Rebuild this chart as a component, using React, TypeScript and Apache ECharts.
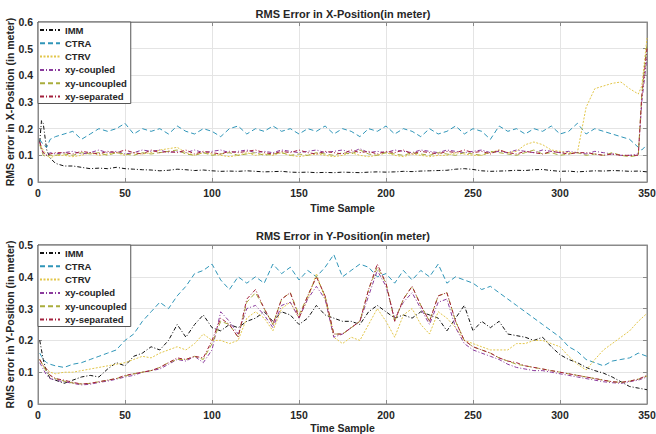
import React, { useEffect, useRef } from "react";
import * as echarts from "echarts";

const seriesNames = ["IMM", "CTRA", "CTRV", "xy-coupled", "xy-uncoupled", "xy-separated"];

const topSamples = [1, 2, 3, 5, 7, 10,
  15, 20, 25, 30, 35, 40, 45, 50, 55, 60,
  65, 70, 75, 80, 85, 90, 95, 100, 105, 110,
  115, 120, 125, 130, 135, 140, 145, 150, 155, 160,
  165, 170, 175, 180, 185, 190, 195, 200, 205, 210,
  215, 220, 225, 230, 235, 240, 245, 250, 255, 260,
  265, 270, 275, 280, 285, 290, 295, 300, 305, 310,
  315, 320, 325, 330, 335, 340, 345,
  347, 350];

const topIMM = [0.15, 0.23, 0.22, 0.12, 0.09, 0.07,
  0.06, 0.06, 0.055, 0.05, 0.052, 0.05, 0.055, 0.05, 0.048, 0.046,
  0.045, 0.042, 0.044, 0.048, 0.046, 0.043, 0.045, 0.042, 0.04, 0.041,
  0.04, 0.042, 0.04, 0.038, 0.039, 0.04, 0.037, 0.036, 0.037, 0.035,
  0.036, 0.035, 0.037, 0.036, 0.035, 0.037, 0.038, 0.037, 0.038, 0.04,
  0.039, 0.041, 0.042, 0.043, 0.044, 0.048, 0.05, 0.047, 0.042, 0.04,
  0.041, 0.042, 0.044, 0.043, 0.046, 0.047, 0.043, 0.04, 0.041, 0.038,
  0.04, 0.042, 0.041, 0.043, 0.042, 0.04, 0.041,
  0.04, 0.038];

const topCTRA = [0.16, 0.15, 0.14, 0.13, 0.16, 0.17,
  0.18, 0.19, 0.16, 0.18, 0.2, 0.19, 0.2, 0.22, 0.18, 0.2,
  0.19, 0.2, 0.18, 0.21, 0.19, 0.18, 0.2, 0.19, 0.17, 0.2,
  0.21, 0.18, 0.2, 0.19, 0.21, 0.19, 0.2, 0.18, 0.2, 0.19,
  0.21, 0.18, 0.2, 0.19, 0.17, 0.2, 0.19, 0.21, 0.18, 0.2,
  0.19, 0.17, 0.2, 0.18, 0.19, 0.21, 0.18, 0.2, 0.19, 0.16,
  0.21, 0.19, 0.2, 0.18, 0.2, 0.19, 0.21, 0.18, 0.19, 0.22,
  0.18, 0.2, 0.19, 0.18, 0.17, 0.16, 0.13,
  0.12, 0.14];

const topCTRV = [0.15, 0.13, 0.12, 0.1, 0.09, 0.1,
  0.1, 0.095, 0.1, 0.11, 0.1, 0.105, 0.11, 0.1, 0.11, 0.105,
  0.11, 0.12, 0.125, 0.13, 0.11, 0.1, 0.11, 0.105, 0.1, 0.095,
  0.1, 0.11, 0.1, 0.105, 0.1, 0.11, 0.1, 0.095, 0.1, 0.105,
  0.1, 0.095, 0.1, 0.11, 0.1, 0.095, 0.1, 0.11, 0.1, 0.095,
  0.105, 0.1, 0.095, 0.1, 0.1, 0.11, 0.105, 0.1, 0.1, 0.11,
  0.12, 0.11, 0.115, 0.14, 0.15, 0.14, 0.12, 0.115, 0.11, 0.11,
  0.28, 0.35, 0.36, 0.37, 0.375, 0.35, 0.33,
  0.36, 0.54];

const topCoupled = [0.15, 0.12, 0.11, 0.1, 0.11, 0.105,
  0.11, 0.115, 0.105, 0.11, 0.12, 0.11, 0.115, 0.105, 0.11, 0.12,
  0.115, 0.12, 0.11, 0.115, 0.11, 0.12, 0.11, 0.115, 0.12, 0.11,
  0.115, 0.12, 0.11, 0.115, 0.11, 0.12, 0.115, 0.11, 0.115, 0.12,
  0.11, 0.115, 0.12, 0.11, 0.125, 0.11, 0.115, 0.11, 0.12, 0.115,
  0.11, 0.12, 0.115, 0.11, 0.12, 0.115, 0.11, 0.115, 0.12, 0.11,
  0.115, 0.11, 0.12, 0.115, 0.11, 0.12, 0.115, 0.11, 0.115, 0.11,
  0.105, 0.115, 0.11, 0.105, 0.1, 0.1, 0.105,
  0.3, 0.47];

const topUncoupled = [0.14, 0.12, 0.1, 0.095, 0.1, 0.1,
  0.105, 0.1, 0.11, 0.105, 0.11, 0.1, 0.11, 0.105, 0.1, 0.11,
  0.105, 0.11, 0.115, 0.12, 0.105, 0.1, 0.11, 0.1, 0.105, 0.11,
  0.1, 0.105, 0.11, 0.1, 0.105, 0.11, 0.1, 0.105, 0.1, 0.11,
  0.105, 0.1, 0.11, 0.105, 0.12, 0.105, 0.1, 0.11, 0.105, 0.1,
  0.11, 0.105, 0.1, 0.11, 0.105, 0.1, 0.11, 0.105, 0.1, 0.115,
  0.11, 0.105, 0.1, 0.11, 0.12, 0.105, 0.11, 0.1, 0.105, 0.11,
  0.1, 0.105, 0.1, 0.11, 0.1, 0.095, 0.1,
  0.33, 0.52];

const topSeparated = [0.15, 0.13, 0.11, 0.1, 0.105, 0.11,
  0.11, 0.105, 0.115, 0.11, 0.105, 0.115, 0.11, 0.12, 0.11, 0.105,
  0.12, 0.11, 0.115, 0.11, 0.12, 0.105, 0.115, 0.11, 0.105, 0.115,
  0.11, 0.115, 0.12, 0.11, 0.105, 0.115, 0.11, 0.12, 0.11, 0.105,
  0.115, 0.11, 0.105, 0.12, 0.11, 0.115, 0.105, 0.115, 0.11, 0.12,
  0.105, 0.115, 0.11, 0.105, 0.115, 0.11, 0.12, 0.11, 0.115, 0.105,
  0.12, 0.11, 0.105, 0.115, 0.11, 0.105, 0.115, 0.11, 0.105, 0.11,
  0.11, 0.105, 0.1, 0.105, 0.1, 0.1, 0.1,
  0.32, 0.5];

const bottomSamples = [1, 2, 3, 5, 7, 10,
  15, 20, 25, 30, 35, 40, 45, 50, 55, 60,
  65, 70, 75, 80, 85, 90, 95, 100, 105, 110,
  115, 120, 125, 130, 135, 140, 145, 150, 155, 160,
  165, 170, 175, 180, 185, 190, 195, 200, 205, 210,
  215, 220, 225, 230, 235, 240, 245, 250, 255, 260,
  265, 270, 275, 280, 285, 290, 295, 300, 305, 310,
  315, 320, 325, 330, 335, 340, 345, 350];

const bottomIMM = [0.2, 0.17, 0.14, 0.1, 0.08, 0.075,
  0.065, 0.075, 0.085, 0.09, 0.085, 0.11, 0.13, 0.12, 0.15, 0.16,
  0.18, 0.17, 0.2, 0.25, 0.21, 0.25, 0.28, 0.24, 0.23, 0.25,
  0.24, 0.26, 0.27, 0.29, 0.26, 0.29, 0.28, 0.25, 0.27, 0.31,
  0.28, 0.27, 0.26, 0.26, 0.25, 0.29, 0.31, 0.29, 0.27, 0.28,
  0.27, 0.29, 0.28, 0.27, 0.23, 0.27, 0.31, 0.23, 0.26, 0.24,
  0.26, 0.22, 0.215, 0.21, 0.2, 0.21, 0.18, 0.155, 0.14, 0.13,
  0.115, 0.105, 0.097, 0.085, 0.07, 0.055, 0.05, 0.045];

const bottomCTRA = [0.16, 0.15, 0.14, 0.13, 0.125, 0.12,
  0.115, 0.125, 0.13, 0.14, 0.15, 0.16, 0.17, 0.2, 0.22, 0.26,
  0.29, 0.32, 0.3, 0.34, 0.37, 0.41, 0.42, 0.44, 0.39, 0.36,
  0.4, 0.38, 0.4, 0.38, 0.44, 0.41, 0.43, 0.39, 0.42, 0.4,
  0.43, 0.47, 0.4, 0.42, 0.44, 0.43, 0.4, 0.41, 0.38, 0.42,
  0.39, 0.42, 0.4, 0.44, 0.38, 0.4, 0.39, 0.38, 0.36, 0.37,
  0.35, 0.33, 0.31, 0.29, 0.27, 0.25, 0.23, 0.21, 0.18, 0.165,
  0.14, 0.13, 0.12, 0.135, 0.14, 0.145, 0.16, 0.15];

const bottomCTRV = [0.14, 0.13, 0.12, 0.11, 0.1, 0.095,
  0.1, 0.1, 0.105, 0.11, 0.115, 0.12, 0.125, 0.13, 0.14, 0.15,
  0.145, 0.16, 0.17, 0.18, 0.17, 0.19, 0.22, 0.2, 0.2, 0.19,
  0.2, 0.27, 0.29, 0.27, 0.23, 0.3, 0.32, 0.27, 0.33, 0.41,
  0.33, 0.21, 0.19, 0.21, 0.2, 0.25, 0.3, 0.26, 0.21, 0.28,
  0.3, 0.25, 0.22, 0.29, 0.27, 0.24, 0.2, 0.19, 0.18, 0.17,
  0.17, 0.17, 0.19, 0.19, 0.2, 0.2, 0.19, 0.18, 0.15, 0.125,
  0.107, 0.14, 0.17, 0.19, 0.21, 0.23, 0.26, 0.285];

const bottomCoupled = [0.13, 0.12, 0.11, 0.09, 0.08, 0.075,
  0.07, 0.065, 0.06, 0.062, 0.068, 0.072, 0.078, 0.085, 0.09, 0.1,
  0.105, 0.11, 0.125, 0.14, 0.135, 0.15, 0.13, 0.17, 0.29, 0.26,
  0.22, 0.3, 0.31, 0.28, 0.24, 0.31, 0.32, 0.27, 0.33, 0.37,
  0.33, 0.21, 0.22, 0.24, 0.26, 0.34, 0.42, 0.37, 0.27, 0.32,
  0.35, 0.3, 0.25, 0.32, 0.33, 0.24, 0.19, 0.17, 0.16, 0.15,
  0.14, 0.125, 0.115, 0.11, 0.105, 0.105, 0.1, 0.095, 0.09, 0.085,
  0.08, 0.075, 0.07, 0.067, 0.065, 0.07, 0.075, 0.085];

const bottomUncoupled = [0.14, 0.13, 0.12, 0.1, 0.09, 0.08,
  0.072, 0.066, 0.063, 0.065, 0.07, 0.075, 0.08, 0.088, 0.095, 0.1,
  0.105, 0.115, 0.13, 0.14, 0.14, 0.15, 0.14, 0.19, 0.26, 0.25,
  0.21, 0.32, 0.35, 0.3, 0.25, 0.33, 0.35, 0.28, 0.34, 0.4,
  0.34, 0.22, 0.22, 0.24, 0.26, 0.36, 0.43, 0.38, 0.26, 0.33,
  0.37, 0.31, 0.26, 0.34, 0.35, 0.26, 0.2, 0.18, 0.17, 0.16,
  0.145, 0.135, 0.125, 0.12, 0.115, 0.11, 0.105, 0.1, 0.095, 0.09,
  0.085, 0.08, 0.075, 0.07, 0.068, 0.072, 0.078, 0.088];

const bottomSeparated = [0.14, 0.13, 0.12, 0.11, 0.09, 0.08,
  0.075, 0.068, 0.063, 0.065, 0.07, 0.075, 0.08, 0.09, 0.095, 0.1,
  0.105, 0.115, 0.13, 0.145, 0.14, 0.15, 0.145, 0.2, 0.27, 0.25,
  0.21, 0.33, 0.36, 0.3, 0.25, 0.33, 0.35, 0.27, 0.34, 0.4,
  0.34, 0.22, 0.22, 0.24, 0.26, 0.36, 0.44, 0.38, 0.26, 0.33,
  0.37, 0.31, 0.26, 0.34, 0.35, 0.26, 0.2, 0.18, 0.17, 0.16,
  0.145, 0.135, 0.13, 0.12, 0.115, 0.11, 0.105, 0.1, 0.095, 0.09,
  0.085, 0.08, 0.075, 0.07, 0.068, 0.072, 0.078, 0.09];

const colors = ["#111111", "#2f95b8", "#e2c64a", "#8a3a9c", "#a9ad3c", "#a3203c"];
const dashes: any[] = [[4, 2, 1, 2], [5, 3], [2, 1.5], [4, 2, 1, 2], [5, 3], [4, 2, 1, 2]];

const FONT = "'Liberation Sans', Arial, Helvetica, sans-serif";
const TXT = "#262626";
const AXC = "#8a8a8a";

export default function App() {
  const ref = useRef<HTMLDivElement>(null);
  useEffect(() => {
    if (!ref.current) return;
    const chart = echarts.init(ref.current, null, { renderer: "svg" });
    const pair = (xs: number[], ys: number[]) => xs.map((x, i) => [x, ys[i]]);
    const topData = [topIMM, topCTRA, topCTRV, topCoupled, topUncoupled, topSeparated];
    const botData = [bottomIMM, bottomCTRA, bottomCTRV, bottomCoupled, bottomUncoupled, bottomSeparated];

    const mkX = (gi: number, main: boolean, gap: number) => ({
      type: "value",
      gridIndex: gi,
      min: 0,
      max: 350,
      interval: 50,
      position: main ? "bottom" : "top",
      name: main ? "Time Sample" : "",
      nameLocation: "middle",
      nameGap: gap,
      nameMoveOverlap: false,
      nameTextStyle: { fontFamily: FONT, fontWeight: "bold", fontSize: 10.5, color: TXT, lineHeight: 11 },
      axisLine: { show: true, onZero: false, lineStyle: { color: AXC } },
      axisTick: { show: true, inside: true, length: 4, lineStyle: { color: AXC } },
      axisLabel: { show: main, margin: 5, hideOverlap: false, fontFamily: FONT, fontWeight: "bold", fontSize: 10.5, color: TXT },
      splitLine: { show: main, lineStyle: { color: "#e4e4e4" } },
    });
    const mkY = (gi: number, max: number, name: string, main: boolean) => ({
      type: "value",
      gridIndex: gi,
      min: 0,
      max,
      interval: 0.1,
      position: main ? "left" : "right",
      name: main ? name : "",
      nameLocation: "middle",
      nameGap: 23,
      nameMoveOverlap: false,
      nameTextStyle: { fontFamily: FONT, fontWeight: "bold", fontSize: 10.5, color: TXT },
      axisLine: { show: true, onZero: false, lineStyle: { color: AXC } },
      axisTick: { show: true, inside: true, length: 4, lineStyle: { color: AXC } },
      axisLabel: { show: main, margin: 5, hideOverlap: false, fontFamily: FONT, fontWeight: "bold", fontSize: 10.5, color: TXT },
      splitLine: { show: main, lineStyle: { color: "#e4e4e4" } },
    });

    const series: any[] = [];
    [topData, botData].forEach((set, gi) => {
      const xs = gi === 0 ? topSamples : bottomSamples;
      set.forEach((ys, k) => {
        series.push({
          type: "line",
          name: seriesNames[k],
          xAxisIndex: gi * 2,
          yAxisIndex: gi * 2,
          data: pair(xs, ys),
          symbol: "none",
          showSymbol: false,
          z: 2 + k,
          lineStyle: { color: colors[k], width: 1, type: dashes[k] },
          itemStyle: { color: colors[k] },
        });
      });
    });

    const legendCommon = {
      orient: "vertical",
      left: 38,
      data: seriesNames,
      itemWidth: 20,
      itemHeight: 10,
      itemGap: 3.3,
      padding: [3, 4, 2, 1],
      backgroundColor: "#ffffff",
      borderColor: "#555555",
      borderWidth: 1,
      selectedMode: false,
      itemStyle: { opacity: 0, color: "rgba(0,0,0,0)", borderWidth: 0 },
      textStyle: { fontFamily: FONT, fontWeight: "bold", fontSize: 9.5, color: TXT, lineHeight: 10 },
    };

    chart.setOption({
      animation: false,
      backgroundColor: "#ffffff",
      title: [
        { text: "RMS Error in X-Position(in meter)", left: 343, textAlign: "center", top: 8, padding: 0,
          textStyle: { fontFamily: FONT, fontWeight: "bold", fontSize: 11, color: TXT } },
        { text: "RMS Error in Y-Position(in meter)", left: 343, textAlign: "center", top: 230, padding: 0,
          textStyle: { fontFamily: FONT, fontWeight: "bold", fontSize: 11, color: TXT } },
      ],
      legend: [
        { ...legendCommon, top: 22 },
        { ...legendCommon, top: 245 },
      ],
      grid: [
        { left: 38, top: 22, width: 609, height: 160, show: true, borderColor: AXC, borderWidth: 1,
          backgroundColor: "#ffffff", containLabel: false, outerBoundsMode: "none" },
        { left: 38, top: 245, width: 609, height: 159, show: true, borderColor: AXC, borderWidth: 1,
          backgroundColor: "#ffffff", containLabel: false, outerBoundsMode: "none" },
      ],
      xAxis: [mkX(0, true, 20), mkX(0, false, 20), mkX(1, true, 18), mkX(1, false, 18)],
      yAxis: [
        mkY(0, 0.6, "RMS error in X-Position (in meter)", true),
        mkY(0, 0.6, "", false),
        mkY(1, 0.5, "RMS error in Y-Position (in meter)", true),
        mkY(1, 0.5, "", false),
      ],
      series,
    });
    return () => chart.dispose();
  }, []);
  return (
    <div
      ref={ref}
      style={{ position: "fixed", left: 0, top: 0, width: 656, height: 434, background: "#fff" }}
    />
  );
}
